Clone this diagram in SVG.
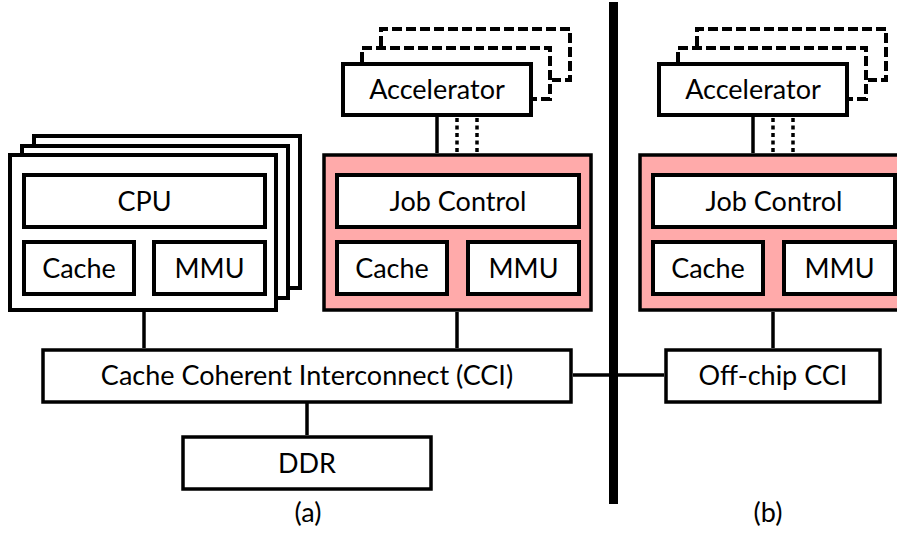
<svg xmlns="http://www.w3.org/2000/svg" width="897" height="537" viewBox="0 0 897 537">
<style>
  .box { fill: #ffffff; stroke: #000000; stroke-width: 4; }
  .pink { fill: #ffaaaa; stroke: #000000; stroke-width: 3.5; }
  .thin { fill: #ffffff; stroke: #000000; stroke-width: 3.5; }
  .ln { fill: none; stroke: #000000; stroke-width: 3.5; }
  .dash { fill: none; stroke: #000000; stroke-width: 4; stroke-dasharray: 10 4; }
  .dot { fill: none; stroke: #000000; stroke-width: 3.5; stroke-dasharray: 4 3.5; }
  text { font-family: Lato, "Liberation Sans", sans-serif; font-size: 27px; fill: #000000; text-anchor: middle; }
</style>

<g id="connectors">
  <line class="ln" x1="144" y1="312" x2="144" y2="348"/>
  <line class="ln" x1="457" y1="312" x2="457" y2="348"/>
  <line class="ln" x1="307" y1="403" x2="307" y2="435"/>
  <line class="ln" x1="437" y1="117" x2="437" y2="153"/>
  <line class="dot" x1="457" y1="118" x2="457" y2="153"/>
  <line class="dot" x1="477" y1="118" x2="477" y2="153"/>
  <line class="ln" x1="753" y1="117" x2="753" y2="153"/>
  <line class="dot" x1="773" y1="118" x2="773" y2="153"/>
  <line class="dot" x1="793" y1="118" x2="793" y2="153"/>
  <line class="ln" x1="773" y1="312" x2="773" y2="348"/>
  <line class="ln" x1="573" y1="375" x2="664" y2="375"/>
</g>

<g id="divider">
  <rect x="609" y="2" width="9" height="502" fill="#000000"/>
</g>

<g id="cpu-cluster">
  <rect class="box" x="34" y="136" width="266" height="152"/>
  <rect class="box" x="22" y="146" width="266" height="152"/>
  <rect class="box" x="10" y="155" width="266" height="155"/>
  <g id="cpu">
    <rect class="box" x="24" y="175" width="241" height="52"/>
    <text x="144.5" y="211">CPU</text>
  </g>
  <g id="cpu-cache">
    <rect class="box" x="24" y="242" width="110" height="52"/>
    <text x="79" y="278">Cache</text>
  </g>
  <g id="cpu-mmu">
    <rect class="box" x="154" y="242" width="111" height="52"/>
    <text x="209.5" y="278">MMU</text>
  </g>
</g>

<g id="accel-a">
  <polyline class="dash" points="381,46 381,29 570,29 570,80 552,80"/>
  <polyline class="dash" points="362,62 362,48 550,48 550,99 533,99"/>
  <rect class="box" x="343" y="64" width="188" height="51"/>
  <text x="437" y="99">Accelerator</text>
</g>

<g id="job-a">
  <rect class="pink" x="324" y="155" width="267" height="155"/>
  <g id="job-control-a">
    <rect class="box" x="337" y="175" width="242" height="52"/>
    <text x="458" y="211">Job Control</text>
  </g>
  <g id="job-cache-a">
    <rect class="box" x="337" y="242" width="110" height="52"/>
    <text x="392" y="278">Cache</text>
  </g>
  <g id="job-mmu-a">
    <rect class="box" x="468" y="242" width="111" height="52"/>
    <text x="523.5" y="278">MMU</text>
  </g>
</g>

<g id="cci">
  <rect class="thin" x="43" y="350" width="528" height="52"/>
  <text x="307" y="385">Cache Coherent Interconnect (CCI)</text>
</g>

<g id="ddr">
  <rect class="thin" x="183" y="437" width="248" height="52"/>
  <text x="307" y="473">DDR</text>
</g>

<g id="accel-b">
  <polyline class="dash" points="697,46 697,29 886,29 886,80 868,80"/>
  <polyline class="dash" points="678,62 678,48 866,48 866,99 849,99"/>
  <rect class="box" x="659" y="64" width="188" height="51"/>
  <text x="753" y="99">Accelerator</text>
</g>

<g id="job-b">
  <rect class="pink" x="640" y="155" width="267" height="155"/>
  <g id="job-control-b">
    <rect class="box" x="653" y="175" width="242" height="52"/>
    <text x="774" y="211">Job Control</text>
  </g>
  <g id="job-cache-b">
    <rect class="box" x="653" y="242" width="110" height="52"/>
    <text x="708" y="278">Cache</text>
  </g>
  <g id="job-mmu-b">
    <rect class="box" x="784" y="242" width="111" height="52"/>
    <text x="839.5" y="278">MMU</text>
  </g>
</g>

<g id="offchip-cci">
  <rect class="thin" x="666" y="350" width="214" height="52"/>
  <text x="773" y="385">Off-chip CCI</text>
</g>

<g id="labels">
  <text x="308" y="522">(a)</text>
  <text x="768" y="522">(b)</text>
</g>
</svg>
